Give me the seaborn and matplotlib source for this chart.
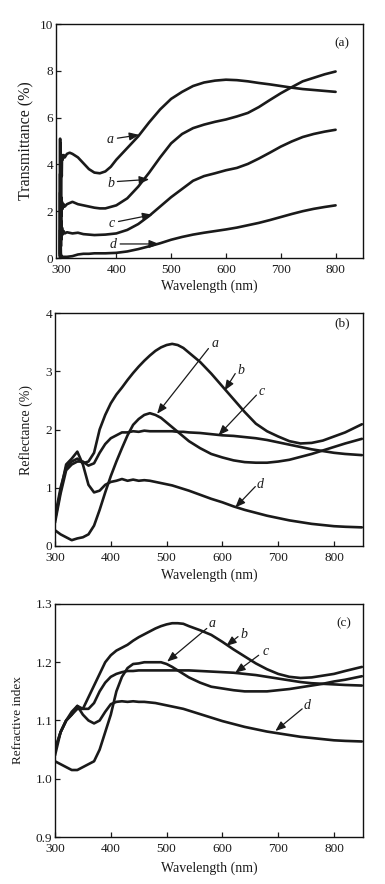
import matplotlib
matplotlib.use("Agg")
import matplotlib.pyplot as plt
import seaborn as sns
import numpy as np
import pandas as pd

sns.set_theme(style="ticks")
plt.rcParams['font.family'] = ['Liberation Serif', 'DejaVu Serif']

# ---------------- Panel (a): Transmittance ----------------
xa_a = [297, 297.5, 298, 298.5, 299, 299.5, 300, 300.5, 301, 302, 304, 306, 310, 315, 320, 330, 340, 350, 360, 370,
        380, 390, 400, 420, 440, 460, 480, 500, 520, 540, 560, 580, 600, 620, 640, 660, 680, 700, 720, 740,
        760, 780, 800]
ya_a = [0.1, 5.1, 0.5, 4.9, 1.5, 3.3, 4.0, 3.5, 4.4, 4.2, 4.4, 4.3, 4.45, 4.5, 4.45, 4.3, 4.05, 3.8, 3.65, 3.62,
        3.7, 3.9, 4.2, 4.7, 5.2, 5.8, 6.35, 6.8, 7.1, 7.35, 7.5, 7.58, 7.62, 7.6, 7.55, 7.48, 7.42, 7.35, 7.28, 7.22,
        7.18, 7.14, 7.1]

xa_b = [297, 297.5, 298, 298.5, 299, 299.5, 300, 301, 302, 304, 306, 310, 315, 320, 330, 340, 350, 360, 370, 380,
        400, 420, 440, 460, 480, 500, 520, 540, 560, 580, 600, 620, 640, 660, 680, 700, 720, 740, 760, 780, 800]
ya_b = [0.2, 3.6, 0.6, 3.0, 1.2, 2.6, 1.8, 2.4, 2.1, 2.3, 2.2, 2.3, 2.35, 2.4, 2.3, 2.25, 2.2, 2.15, 2.12, 2.12,
        2.25, 2.55, 3.05, 3.65, 4.3, 4.9, 5.3, 5.55, 5.7, 5.82, 5.92, 6.05, 6.2, 6.45, 6.75, 7.04, 7.3, 7.55, 7.7,
        7.85, 7.97]

xa_c = [297, 297.5, 298, 298.5, 299, 299.5, 300, 301, 302, 304, 306, 310, 320, 330, 340, 350, 360, 380, 400, 420,
        440, 460, 480, 500, 520, 540, 560, 580, 600, 620, 640, 660, 680, 700, 720, 740, 760, 780, 800]
ya_c = [0.1, 2.8, 0.3, 2.2, 0.5, 1.6, 0.8, 1.3, 1.0, 1.15, 1.05, 1.1, 1.05, 1.08, 1.02, 1.0, 0.98, 1.0, 1.05, 1.2,
        1.45, 1.8, 2.2, 2.6, 2.95, 3.3, 3.5, 3.62, 3.75, 3.85, 4.02, 4.25, 4.5, 4.76, 4.98, 5.17, 5.3, 5.4, 5.48]

xa_d = [297, 297.5, 298, 298.5, 299, 300, 302, 305, 310, 320, 330, 340, 350, 360, 380, 400, 420, 440, 460, 480,
        500, 520, 540, 560, 580, 600, 620, 640, 660, 680, 700, 720, 740, 760, 780, 800]
ya_d = [0.0, 1.2, 0.1, 0.8, 0.0, 0.1, 0.05, 0.05, 0.05, 0.08, 0.15, 0.18, 0.18, 0.2, 0.2, 0.22, 0.28, 0.38, 0.5,
        0.63, 0.78, 0.9, 1.0, 1.08, 1.15, 1.22, 1.3, 1.4, 1.5, 1.62, 1.75, 1.88, 2.0, 2.1, 2.18, 2.25]

# ---------------- Panels (b), (c): common wavelength grid ----------------
wl = [300, 310, 320, 330, 340, 350, 360, 370, 380, 390, 400, 410, 420, 430, 440, 450, 460, 470, 480, 490, 500,
      510, 520, 530, 540, 560, 580, 600, 620, 640, 660, 680, 700, 720, 740, 760, 780, 800, 820, 850]

R_a = [0.27, 0.2, 0.15, 0.1, 0.13, 0.15, 0.2, 0.35, 0.62, 0.92, 1.2, 1.45, 1.68, 1.9, 2.08, 2.18, 2.25, 2.28, 2.25,
       2.2, 2.12, 2.04, 1.96, 1.88, 1.8, 1.68, 1.58, 1.52, 1.47, 1.44, 1.43, 1.43, 1.45, 1.48, 1.53, 1.58, 1.64,
       1.7, 1.76, 1.84]
R_b = [0.5, 1.0, 1.35, 1.45, 1.5, 1.42, 1.45, 1.6, 2.0, 2.25, 2.45, 2.6, 2.72, 2.85, 2.97, 3.08, 3.18, 3.27, 3.35,
       3.41, 3.45, 3.47, 3.45, 3.4, 3.32, 3.16, 2.96, 2.74, 2.52, 2.3, 2.1, 1.97, 1.88, 1.8, 1.76, 1.77, 1.81,
       1.88, 1.95, 2.09]
R_c = [0.4, 0.9, 1.3, 1.4, 1.45, 1.45, 1.38, 1.42, 1.6, 1.75, 1.85, 1.9, 1.95, 1.95, 1.97, 1.96, 1.98, 1.97, 1.97,
       1.97, 1.97, 1.97, 1.96, 1.96, 1.95, 1.94, 1.92, 1.9, 1.89, 1.87, 1.85, 1.82, 1.78, 1.74, 1.7, 1.66, 1.63,
       1.6, 1.58, 1.56]
R_d = [0.45, 0.95, 1.4, 1.5, 1.62, 1.4, 1.05, 0.92, 0.95, 1.05, 1.1, 1.12, 1.15, 1.12, 1.14, 1.12, 1.13, 1.12,
       1.1, 1.08, 1.06, 1.04, 1.01, 0.98, 0.95, 0.88, 0.81, 0.75, 0.68, 0.62, 0.57, 0.52, 0.48, 0.44, 0.41, 0.38,
       0.36, 0.34, 0.33, 0.32]

n_a = [1.03, 1.025, 1.02, 1.015, 1.015, 1.02, 1.025, 1.03, 1.05, 1.08, 1.11, 1.15, 1.175, 1.19, 1.197, 1.198,
       1.2, 1.2, 1.2, 1.2, 1.197, 1.192, 1.186, 1.18, 1.174, 1.165, 1.158, 1.155, 1.152, 1.15, 1.15, 1.15, 1.152,
       1.154, 1.157, 1.16, 1.163, 1.167, 1.17, 1.176]
n_b = [1.05, 1.08, 1.1, 1.11, 1.125, 1.12, 1.14, 1.16, 1.18, 1.2, 1.212, 1.22, 1.225, 1.23, 1.237, 1.243, 1.248,
       1.253, 1.258, 1.262, 1.265, 1.267, 1.267, 1.266, 1.262, 1.255, 1.247, 1.235, 1.222, 1.21, 1.198, 1.188,
       1.18, 1.175, 1.173, 1.174, 1.177, 1.18, 1.185, 1.192]
n_c = [1.05, 1.08, 1.1, 1.11, 1.12, 1.12, 1.12, 1.13, 1.15, 1.165, 1.175, 1.18, 1.183, 1.185, 1.185, 1.186,
       1.186, 1.186, 1.186, 1.186, 1.186, 1.186, 1.186, 1.186, 1.186, 1.185, 1.184, 1.183, 1.182, 1.18, 1.178,
       1.175, 1.172, 1.169, 1.166, 1.164, 1.163, 1.162, 1.161, 1.16]
n_d = [1.04, 1.08, 1.1, 1.115, 1.125, 1.11, 1.1, 1.095, 1.1, 1.115, 1.128, 1.132, 1.133, 1.132, 1.133, 1.132,
       1.132, 1.131, 1.13, 1.128, 1.126, 1.124, 1.122, 1.12, 1.117, 1.111, 1.105, 1.099, 1.094, 1.089, 1.085,
       1.081, 1.078, 1.075, 1.072, 1.07, 1.068, 1.066, 1.065, 1.064]

# annotation arrows: (label, text_x, text_y, tail_x, tail_y, head_x, head_y)
ann_a = [("a", 388, 5.05, 402, 5.12, 442, 5.26),
         ("b", 390, 3.2, 402, 3.27, 460, 3.36),
         ("c", 392, 1.49, 404, 1.56, 466, 1.85),
         ("d", 395, 0.57, 407, 0.6, 478, 0.6)]
ann_b = [("a", 587, 3.47, 575, 3.39, 483, 2.27),
         ("b", 633, 3.02, 623, 2.96, 604, 2.67),
         ("c", 671, 2.65, 661, 2.59, 593, 1.9),
         ("d", 668, 1.05, 659, 1.02, 623, 0.66)]
ann_c = [("a", 581, 1.267, 572, 1.258, 501, 1.201),
         ("b", 638, 1.247, 628, 1.244, 607, 1.228),
         ("c", 677, 1.218, 665, 1.212, 623, 1.182),
         ("d", 752, 1.126, 743, 1.12, 695, 1.082)]

W, H = 385, 884
fig = plt.figure(figsize=(W / 100, H / 100), dpi=100)
fig.patch.set_facecolor("white")

def box(l, t, r, b):
    return [l / W, 1 - b / H, (r - l) / W, (b - t) / H]

axA = fig.add_axes(box(56, 24, 363, 258))
axB = fig.add_axes(box(55, 313, 363, 546))
axC = fig.add_axes(box(55, 604, 363, 837))

TXT = "#1a1a1a"
LW = 1.9

def style(ax, xlim, ylim, yticks, ylabel, ylsize, tag, tagpos, ylab_x, xlab_y):
    ax.set_xlim(*xlim)
    ax.set_ylim(*ylim)
    ax.set_xticks([300, 400, 500, 600, 700, 800])
    ax.set_yticks(yticks)
    ax.tick_params(direction="in", length=3.5, width=0.9, labelsize=9.5, colors=TXT,
                   top=False, right=False)
    ax.tick_params(axis="x", pad=4.5)
    ax.tick_params(axis="y", pad=2)
    for s in ax.spines.values():
        s.set_linewidth(1.0)
        s.set_color("#111111")
    ax.set_xlabel("Wavelength (nm)", fontsize=10, color=TXT)
    ax.set_ylabel(ylabel, fontsize=ylsize, color=TXT)
    ax.yaxis.set_label_coords(ylab_x, 0.5)
    ax.xaxis.set_label_coords(0.5, xlab_y)
    ax.text(tagpos[0], tagpos[1], tag, fontsize=9.5, color=TXT, ha="center", va="center")
    ax.grid(False)

def annotate(ax, anns):
    for lab, tx, ty, x0, y0, x1, y1 in anns:
        ax.annotate("", xy=(x1, y1), xytext=(x0, y0),
                    arrowprops=dict(arrowstyle="-|>,head_length=0.5,head_width=0.2", color="k", lw=0.9,
                                    shrinkA=0, shrinkB=0))
        ax.text(tx, ty, lab, fontsize=10, style="italic", color=TXT, ha="center", va="center")

# panel a
for xs, ys in [(xa_a, ya_a), (xa_b, ya_b), (xa_c, ya_c), (xa_d, ya_d)]:
    sns.lineplot(x=xs, y=ys, ax=axA, color="k", lw=LW, sort=False, estimator=None)
style(axA, (290, 850), (0, 10), [0, 2, 4, 6, 8, 10], "Transmittance (%)", 11.5, "(a)", (812, 9.17),
      -0.072, -0.09)
annotate(axA, ann_a)

# panel b
for ys in [R_a, R_b, R_c, R_d]:
    sns.lineplot(x=wl, y=ys, ax=axB, color="k", lw=LW, sort=False, estimator=None)
style(axB, (300, 852), (0, 4), [0, 1, 2, 3, 4], "Reflectance (%)", 10, "(b)", (815, 3.82), -0.07, -0.095)
annotate(axB, ann_b)

# panel c
for ys in [n_a, n_b, n_c, n_d]:
    sns.lineplot(x=wl, y=ys, ax=axC, color="k", lw=LW, sort=False, estimator=None)
style(axC, (300, 852), (0.9, 1.3), [0.9, 1.0, 1.1, 1.2, 1.3], "Refractive index", 9.5, "(c)", (818, 1.267),
      -0.1, -0.105)
axC.set_yticklabels(["0.9", "1.0", "1.1", "1.2", "1.3"])
annotate(axC, ann_c)

fig.savefig("out.png", dpi=100, facecolor="white")
